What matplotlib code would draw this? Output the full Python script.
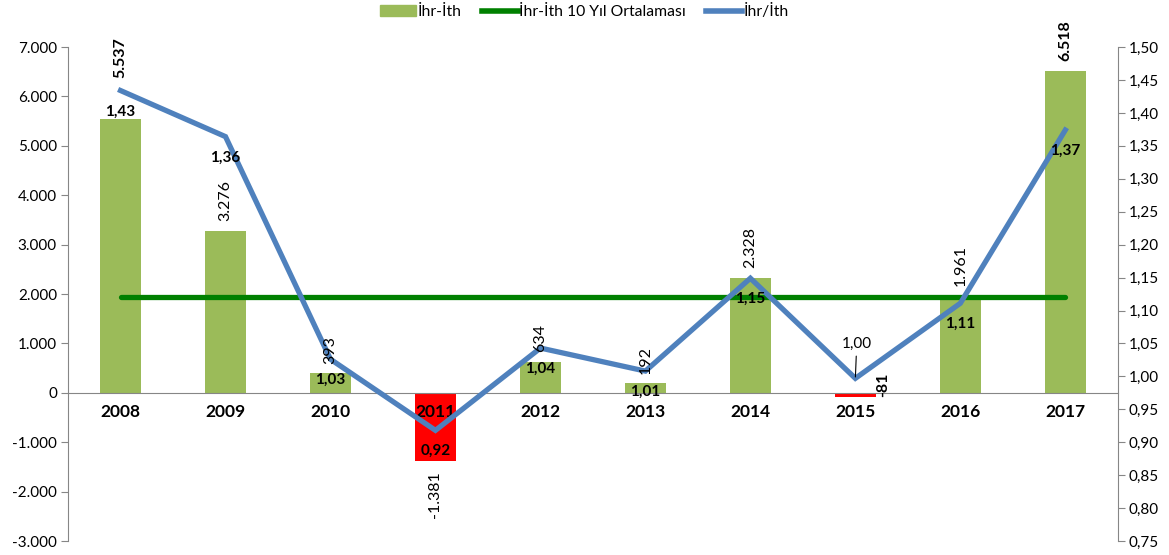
import numpy as np
import matplotlib
matplotlib.use('Agg')
from matplotlib import pyplot as plt
from matplotlib.patches import Patch
from matplotlib.lines import Line2D
from matplotlib.ticker import FuncFormatter, MultipleLocator

plt.rcParams['font.family'] = ['Lato', 'DejaVu Sans']

# data
years = ['2008', '2009', '2010', '2011', '2012', '2013', '2014', '2015', '2016', '2017']
balance = [5537, 3276, 393, -1381, 634, 192, 2328, -81, 1961, 6518]       # İhr-İth
ratio = [1.434, 1.364, 1.026, 0.918, 1.043, 1.008, 1.149, 0.997, 1.111, 1.374]  # İhr/İth
avg_balance = np.mean(balance)  # 10 year average

GREEN = '#9BBB59'
RED = '#FF0000'
DKGREEN = '#008000'
BLUE = '#4F81BD'
GRAY = '#868686'

fig = plt.figure(figsize=(11.69, 5.55), dpi=100)
ax = fig.add_axes([0.0582, 0.0252, 0.898, 0.890])
x = np.arange(len(years))

colors = [GREEN if v >= 0 else RED for v in balance]
ax.bar(x, balance, width=0.39, color=colors, zorder=2)
ax.plot(x, [avg_balance] * len(x), color=DKGREEN, lw=3.8, solid_capstyle='round', zorder=3)

ax.set_xlim(-0.5, len(years) - 0.5)
ax.set_ylim(-3000, 7000)
ax.yaxis.set_major_locator(MultipleLocator(1000))
ax.yaxis.set_major_formatter(FuncFormatter(lambda v, p: f'{int(v):,}'.replace(',', '.')))
ax.tick_params(axis='y', length=5, color=GRAY, labelsize=11, pad=3)
ax.spines['bottom'].set_position(('data', 0))
ax.spines['bottom'].set_color(GRAY)
ax.spines['left'].set_color(GRAY)
ax.spines['top'].set_visible(False)
ax.spines['right'].set_visible(False)
ax.set_axisbelow(False)

ax2 = ax.twinx()
ax2.plot(x, ratio, color=BLUE, lw=3.8, solid_joinstyle='miter', zorder=4)
ax2.set_ylim(0.75, 1.50)
ax2.yaxis.set_major_locator(MultipleLocator(0.05))
ax2.yaxis.set_major_formatter(FuncFormatter(lambda v, p: f'{v:.2f}'.replace('.', ',')))
ax2.tick_params(axis='y', length=5, color=GRAY, labelsize=11, pad=3)
ax2.spines['right'].set_color(GRAY)
for s in ['top', 'left', 'bottom']:
    ax2.spines[s].set_visible(False)

# year labels after twinx so the styling sticks
ax.set_xticks(x)
ax.set_xticklabels(years)
ax.tick_params(axis='x', length=0, pad=8, labelsize=12.5)
for t in ax.get_xticklabels():
    t.set_fontweight('bold')

# bar value labels (rotated, outside end)
for i, v in enumerate(balance):
    txt = f'{v:,}'.replace(',', '.')
    bold = 'bold' if i in (0, 9) else 'normal'
    if i == 7:
        ax2.annotate(txt, xy=(x[i], v), xycoords=ax.transData, xytext=(20, 0),
                     textcoords='offset points', rotation=90, ha='center', va='bottom',
                     fontsize=11.5, fontweight='bold', zorder=6)
        continue
    off = 30 if i == 0 else 7
    if v >= 0:
        ax2.annotate(txt, xy=(x[i], v), xycoords=ax.transData, xytext=(0, off),
                     textcoords='offset points', rotation=90, ha='center', va='bottom',
                     fontsize=11.5, fontweight=bold, zorder=6)
    else:
        ax2.annotate(txt, xy=(x[i], v), xycoords=ax.transData, xytext=(0, -off),
                     textcoords='offset points', rotation=90, ha='center', va='top',
                     fontsize=11.5, fontweight=bold, zorder=6)

# ratio labels (below the points, 2015 moved above with a leader)
for i, r in enumerate(ratio):
    txt = f'{r:.2f}'.replace('.', ',')
    if i == 7:
        ax2.annotate(txt, xy=(x[i], r), xytext=(1, 20), textcoords='offset points',
                     ha='center', va='bottom', fontsize=11, zorder=6,
                     arrowprops=dict(arrowstyle='-', color='black', lw=0.8, shrinkA=2, shrinkB=1))
        continue
    ax2.annotate(txt, xy=(x[i], r), xytext=(0, -15), textcoords='offset points',
                 ha='center', va='center', fontsize=11, fontweight='bold', zorder=6)

handles = [Patch(color=GREEN), Line2D([], [], color=DKGREEN, lw=4),
           Line2D([], [], color=BLUE, lw=4)]
labels = ['İhr-İth', 'İhr-İth 10 Yıl Ortalaması', 'İhr/İth']
fig.legend(handles, labels, loc='upper center', bbox_to_anchor=(0.5, 1.018), ncol=3,
           frameon=False, fontsize=11.3, handlelength=2.3, handletextpad=0.08,
           columnspacing=1.3)

fig.savefig('out.png', dpi=100)
